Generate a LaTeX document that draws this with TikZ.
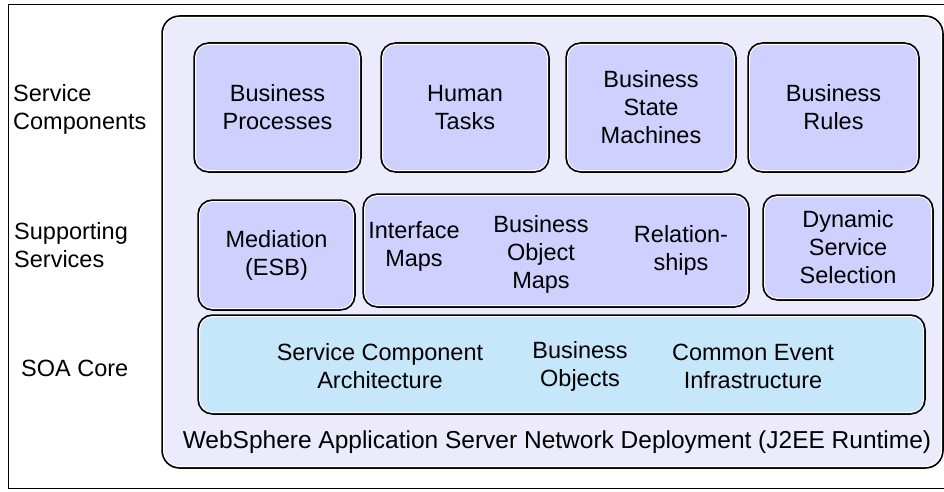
\documentclass[tikz,border=0pt]{standalone}
\usepackage{fontspec}
\setmainfont{Liberation Sans}
\definecolor{boxfill}{RGB}{208,208,255}
\definecolor{contfill}{RGB}{235,235,252}
\definecolor{corefill}{RGB}{198,231,250}
\begin{document}
\begin{tikzpicture}[x=1pt,y=-1pt,
  txt/.style={font=\fontsize{23.5}{28}\selectfont, align=center, inner sep=0pt},
  lbl/.style={font=\fontsize{23.5}{28}\selectfont, align=left, inner sep=0pt, anchor=west},
  dbox/.style={draw=white, line width=1pt, rounded corners=#1,
    preaction={draw=black, line width=4.5pt, rounded corners=#1}},
  comp/.style={dbox=13pt, fill=boxfill, inner sep=0pt, anchor=north west},
]
\useasboundingbox (0,0) rectangle (944,492);
% outer frame (open on the right)
\draw[line width=1pt] (950,5) -- (8,5) -- (8,488) -- (950,488);
% container
\node[dbox=16pt, fill=contfill, inner sep=0pt, anchor=north west,
  minimum width=778pt, minimum height=449pt] (cont) at (163,17) {};
% row 1
\node[comp, minimum width=164pt, minimum height=126pt] (bp) at (195,44) {};
\node[comp, minimum width=165pt, minimum height=126pt] (ht) at (382,44) {};
\node[comp, minimum width=167pt, minimum height=126pt] (bsm) at (567,44) {};
\node[comp, minimum width=168pt, minimum height=126pt] (br) at (749,44) {};
\node[txt] at (bp.center) {Business\\Processes};
\node[txt] at (ht.center) {Human\\Tasks};
\node[txt] at (bsm.center) {Business\\State\\Machines};
\node[txt] at (br.center) {Business\\Rules};
% row 2
\node[comp, minimum width=154pt, minimum height=107pt] (med) at (199,201) {};
\node[comp, minimum width=383pt, minimum height=110pt] (maps) at (364,195) {};
\node[comp, minimum width=167pt, minimum height=102pt] (dss) at (764,196) {};
\node[txt] at (med.center) {Mediation\\(ESB)};
\node[txt] (im) at (414,246) {Interface\\Maps};
\node[txt] (bom) at (541,254) {Business\\Object\\Maps};
\node[txt] (rel) at (681,250) {Relation-\\ships};
\node[txt] at (dss.center) {Dynamic\\Service\\Selection};
% row 3
\node[dbox=13pt, fill=corefill, inner sep=0pt, anchor=north west,
  minimum width=724pt, minimum height=96pt] (core) at (199,316) {};
\node[txt] (sca) at (380,366) {Service Component\\Architecture};
\node[txt] (bo) at (580,366) {Business\\Objects};
\node[txt] (cei) at (753,366) {Common Event\\Infrastructure};
% footer
\node[txt, anchor=base, font=\fontsize{24.5}{28}\selectfont] (was) at (557,448) {WebSphere Application Server Network Deployment (J2EE Runtime)};
% left labels
\node[lbl] (sc) at (13,109) {Service\\Components};
\node[lbl] (ss) at (14,245) {Supporting\\Services};
\node[lbl] (soa) at (21,368) {SOA Core};
\end{tikzpicture}
\end{document}
